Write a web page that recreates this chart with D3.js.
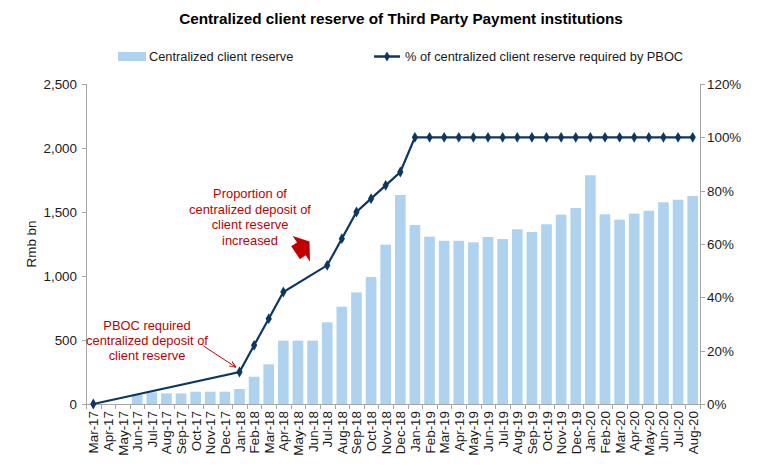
<!DOCTYPE html>
<html><head><meta charset="utf-8">
<script src="https://cdn.jsdelivr.net/npm/d3@7"></script>
<style>body{margin:0;background:#fff}svg{display:block;font-family:"Liberation Sans",Arial,sans-serif}</style>
</head><body><svg id="c" width="771" height="475"></svg>
<script>
const categories = ["Mar-17","Apr-17","May-17","Jun-17","Jul-17","Aug-17","Sep-17","Oct-17","Nov-17","Dec-17",
"Jan-18","Feb-18","Mar-18","Apr-18","May-18","Jun-18","Jul-18","Aug-18","Sep-18","Oct-18","Nov-18","Dec-18",
"Jan-19","Feb-19","Mar-19","Apr-19","May-19","Jun-19","Jul-19","Aug-19","Sep-19","Oct-19","Nov-19","Dec-19",
"Jan-20","Feb-20","Mar-20","Apr-20","May-20","Jun-20","Jul-20","Aug-20"];
const reserve = [null,null,null,75,91,83,83,96,96,96,
117,213,310,495,495,495,638,760,872,992,1245,1633,
1398,1307,1275,1275,1263,1305,1289,1365,1344,1404,1479,1531,
1787,1482,1440,1487,1510,1576,1596,1625];
const pbocPct = [0,null,null,null,null,null,null,null,null,null,
12,22,32,42,null,null,52,62,72,77,82,87,
100,100,100,100,100,100,100,100,100,100,100,100,
100,100,100,100,100,100,100,100];
const leftTicks = [0,500,1000,1500,2000,2500];
const rightTicks = [0,20,40,60,80,100,120];
const title = "Centralized client reserve of Third Party Payment institutions";
const seriesNames = ["Centralized client reserve","% of centralized client reserve required by PBOC"];
const note1 = ["PBOC required","centralized deposit of","client reserve"];
const note2 = ["Proportion of","centralized deposit of","client reserve","increased"];

const svg = d3.select("#c");
const L=86, R=700, T=84, B=404;
const barColor="#afd3ef", lineColor="#0c3761", axisColor="#a6a6a6", red="#c00000", txt="#1a1a1a";
const fTick=13.4, fLeg=12.8, fNote=12.9;

const x = d3.scaleBand().domain(categories).range([L,R]).paddingInner(0.27).paddingOuter(0.135);
const yL = d3.scaleLinear().domain([0,2500]).range([B,T]);
const yR = d3.scaleLinear().domain([0,120]).range([B,T]);

svg.append("text").attr("x",401).attr("y",24).attr("text-anchor","middle")
  .attr("font-weight","bold").attr("font-size",15.3).attr("fill","#000").text(title);

// legend
const lg = svg.append("g");
lg.append("rect").attr("x",118).attr("y",52).attr("width",28).attr("height",9).attr("fill",barColor);
lg.append("text").attr("x",149).attr("y",61).attr("font-size",fLeg).attr("fill",txt).text(seriesNames[0]);
lg.append("line").attr("x1",374).attr("x2",400).attr("y1",56.5).attr("y2",56.5).attr("stroke",lineColor).attr("stroke-width",2.5);
lg.append("path").attr("d",d3.symbol(d3.symbolDiamond,30)()).attr("transform","translate(387,56.5)").attr("fill",lineColor);
lg.append("text").attr("x",405).attr("y",61).attr("font-size",fLeg).attr("fill",txt).text(seriesNames[1]);

// bars
svg.append("g").selectAll("rect").data(categories.map((c,i)=>({c,v:reserve[i]})).filter(d=>d.v!=null))
  .join("rect").attr("x",d=>x(d.c)).attr("width",x.bandwidth())
  .attr("y",d=>yL(d.v)).attr("height",d=>B-yL(d.v)).attr("fill",barColor);

// axes
const ax = svg.append("g").attr("stroke",axisColor).attr("stroke-width",1);
ax.append("line").attr("x1",L+0.5).attr("x2",L+0.5).attr("y1",T).attr("y2",B);
ax.append("line").attr("x1",R+0.5).attr("x2",R+0.5).attr("y1",T).attr("y2",B);
ax.append("line").attr("x1",L).attr("x2",R+1).attr("y1",B+0.5).attr("y2",B+0.5);
leftTicks.forEach(t=>{ax.append("line").attr("x1",L-4).attr("x2",L).attr("y1",Math.round(yL(t))+0.5).attr("y2",Math.round(yL(t))+0.5);});
rightTicks.forEach(t=>{ax.append("line").attr("x1",R).attr("x2",R+5).attr("y1",Math.round(yR(t))+0.5).attr("y2",Math.round(yR(t))+0.5);});
const step = x.step();
d3.range(categories.length+1).forEach(i=>{const xx=Math.round(L+i*step)+0.5;
  ax.append("line").attr("x1",xx).attr("x2",xx).attr("y1",B).attr("y2",B+5);});

const tl = svg.append("g").attr("font-size",fTick).attr("fill",txt);
leftTicks.forEach(t=>tl.append("text").attr("x",L-9).attr("y",yL(t)+5).attr("text-anchor","end").text(d3.format(",")(t)));
rightTicks.forEach(t=>tl.append("text").attr("x",R+7).attr("y",yR(t)+5).text(t+"%"));
categories.forEach(c=>{const cx=x(c)+x.bandwidth()/2;
  tl.append("text").attr("transform",`translate(${cx+5},${B+7}) rotate(-90)`).attr("text-anchor","end").text(c);});
tl.append("text").attr("transform",`translate(36,${(T+B)/2}) rotate(-90)`).attr("text-anchor","middle").text("Rmb bn");

// line
const pts = categories.map((c,i)=>({c,v:pbocPct[i]})).filter(d=>d.v!=null);
const line = d3.line().x(d=>x(d.c)+x.bandwidth()/2).y(d=>yR(d.v));
svg.append("path").datum(pts).attr("d",line).attr("fill","none").attr("stroke",lineColor).attr("stroke-width",2.2);
svg.append("g").selectAll("path").data(pts).join("path")
  .attr("d",d3.symbol(d3.symbolDiamond,34)())
  .attr("transform",d=>`translate(${x(d.c)+x.bandwidth()/2},${yR(d.v)})`).attr("fill",lineColor);

// annotations
const a1 = svg.append("text").attr("font-size",fNote).attr("fill",red).attr("text-anchor","middle");
note1.forEach((s,i)=>a1.append("tspan").attr("x",147).attr("y",330+i*15).text(s));
const a2 = svg.append("text").attr("font-size",fNote).attr("fill",red).attr("text-anchor","middle");
note2.forEach((s,i)=>a2.append("tspan").attr("x",250).attr("y",198+i*15.5).text(s));
// thin arrow to Jan-18 point
const jx = x("Jan-18")+x.bandwidth()/2, jy = yR(12);
svg.append("defs").append("marker").attr("id","ah").attr("viewBox","0 0 10 10").attr("refX",9).attr("refY",5)
  .attr("markerWidth",7).attr("markerHeight",7).attr("orient","auto")
  .append("path").attr("d","M0,1 L10,5 L0,9").attr("fill","none").attr("stroke",red).attr("stroke-width",1.3);
svg.append("line").attr("x1",jx-36).attr("y1",jy-26).attr("x2",jx-4).attr("y2",jy-5)
  .attr("stroke",red).attr("stroke-width",1).attr("marker-end","url(#ah)");
// block arrow
svg.append("path").attr("d","M309.5,241.5 L292.7,236 L297,242.4 L291.2,246.3 L299.9,259.2 L305.7,255.3 L310,261.7 Z")
  .attr("fill",red);
</script></body></html>
